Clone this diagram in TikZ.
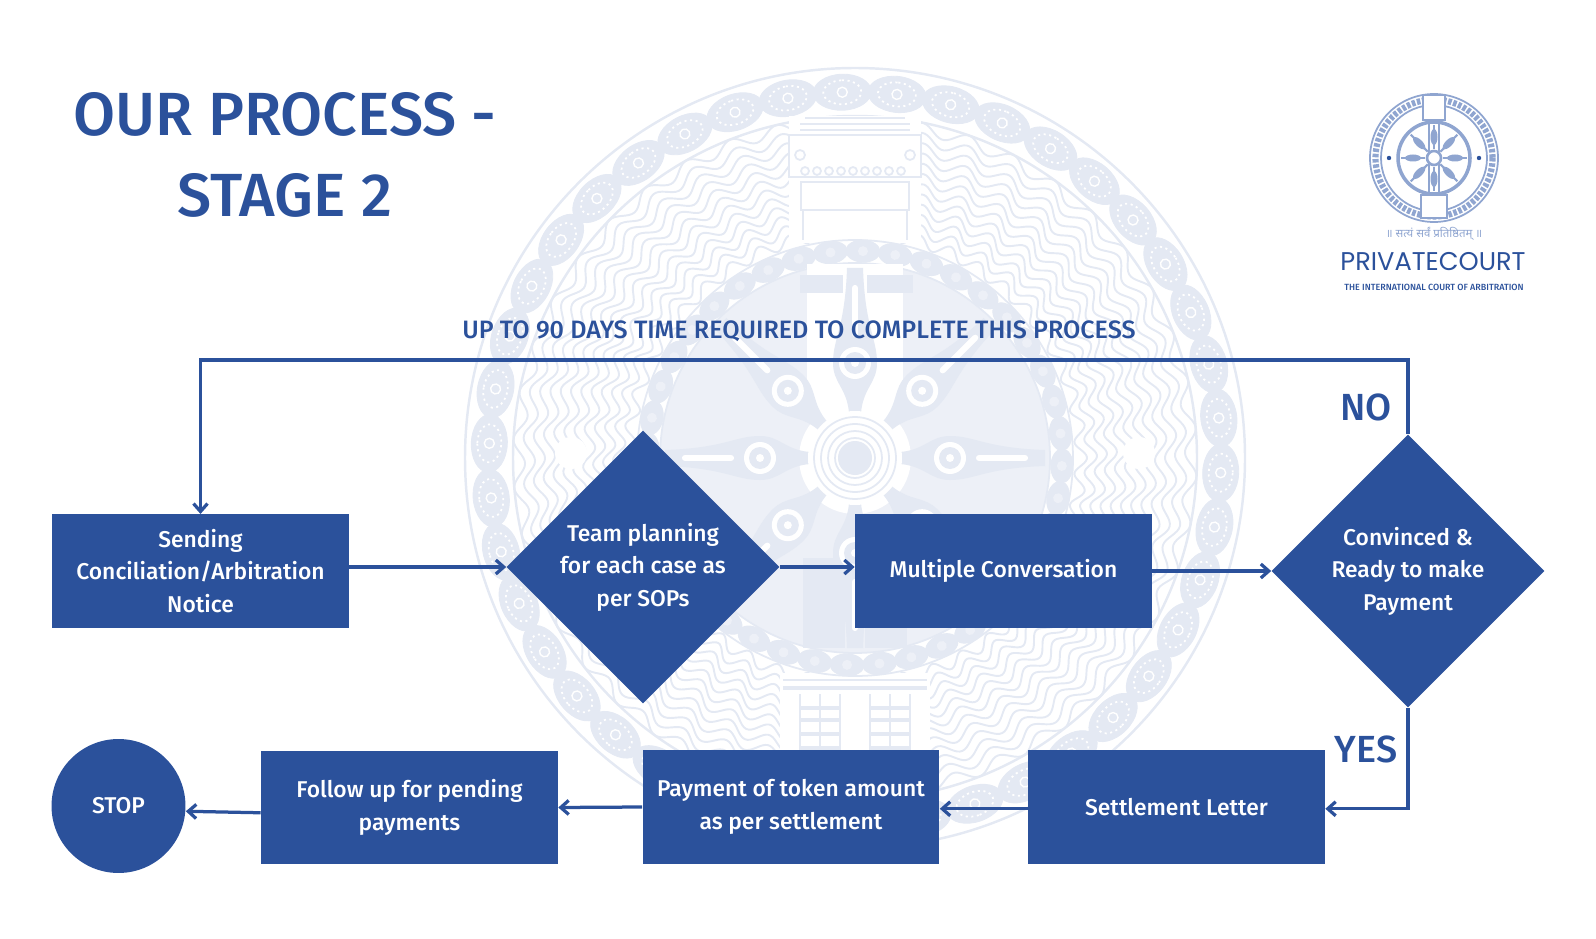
\documentclass[tikz,border=0pt]{standalone}
\usepackage{fontspec}
\setmainfont{Fira Sans}[BoldFont={Fira Sans Medium}]
\newfontfamily\devfont[Script=Devanagari]{Noto Sans}
\newfontfamily\logofont{Poppins}
\usetikzlibrary{arrows.meta,            % arrow tips
                shapes.geometric}       % diamonds
\definecolor{courtblue}{HTML}{2B519B}
\definecolor{wmline}{HTML}{E4E9F3}
\definecolor{wmfill}{HTML}{EDF0F7}
\definecolor{logoline}{HTML}{8FA5D0}
\tikzset{
  stepbox/.style={fill=courtblue, text=white, minimum width=5.94cm, minimum height=2.27cm,
                  align=center, font=\fontsize{13}{18.5}\selectfont\bfseries},
  decision/.style={diamond, aspect=1, fill=courtblue, text=white, inner sep=0pt, minimum size=5.46cm,
                  align=center, font=\fontsize{13}{18.5}\selectfont\bfseries},
  flow/.style={courtblue, line width=1.85pt, -{Straight Barb[length=4.5pt,width=8pt]}},
  tag/.style={courtblue, font=\fontsize{21.5}{25}\selectfont\bfseries},
  wm/.style={wmline, line width=1pt},
  bead/.style={wmline, fill=wmline, line width=0.5pt}
}

\begin{document}
\begin{tikzpicture}[x=0.02cm, y=-0.02cm]
    \useasboundingbox (0,0) rectangle (1596,939);

    % watermark
    \begin{scope}[shift={(855,458)}]
        \draw[wm, line width=1.4pt] (0,0) circle (390);
        \draw[wm, line width=1.4pt] (0,0) circle (342);
        \foreach \r in {226,236,...,336}
        {
            \draw[wmline, line width=1.1pt] plot[domain=-180:180, samples=720]
                ({(\r+6*sin(44*\x+\r*2))*cos(\x)}, {(\r+6*sin(44*\x+\r*2))*sin(\x)});
        }
        \foreach \i in {0,...,41}
        {
            \draw[bead, rotate=6.28+\i*8.571] (366,0) ellipse (18 and 29);
            \draw[white, line width=1pt, dash pattern=on 1.2pt off 2pt, rotate=6.28+\i*8.571] (366,0) ellipse (12 and 19);
            \draw[white, line width=0.8pt, rotate=6.28+\i*8.571] (366,0) circle (5);
        }
        % upper pillar
        \fill[white] (-66,-342) rectangle (66,-215);
        \draw[wm] (-50,-340) -- (50,-340);
        \draw[wm] (-55,-334) -- (55,-334);
        \draw[wm] (-55,-328) -- (55,-328);
        \draw[wm] (-66,-323) rectangle (66,-281);
        \foreach \x in {-50,-38,...,50}
        {
            \draw[wm] (\x,-287) circle (4);
        }
        \draw[wm] (-55,-303) circle (5);
        \draw[wm] (55,-303) circle (5);
        \draw[wm] (-54,-276) rectangle (54,-248);
        \draw[wm] (-52,-248) -- (-52,-218);
        \draw[wm] (52,-248) -- (52,-218);
        % lower pillar
        \fill[white] (-75,215) rectangle (75,330);
        \draw[wm] (-72,222) -- (72,222);
        \draw[wm, line width=2pt] (-72,230) -- (72,230);
        \foreach \x in {-55,-35,15,35}
        {
            \draw[wm] (\x,236) -- (\x,330);
            \draw[wm] (\x+20,236) -- (\x+20,330);
            \foreach \y in {250,262,276,290}
            {
                \draw[wm, line width=2pt] (\x,\y) -- (\x+20,\y);
            }
        }
        % wheel
        \fill[white] (0,0) circle (218);
        \draw[wm] (0,0) circle (218);
        \fill[wmfill] (0,0) circle (195);
        \draw[wm] (0,0) circle (195);
        \foreach \i in {0,...,39}
        {
            \draw[bead, rotate=6.8+\i*9] (207,0) ellipse (11 and 17);
            \fill[wmfill, rotate=6.8+\i*9] (207,0) circle (5);
        }
        \fill[white] (-48,-194) rectangle (48,-45);
        \fill[wmline] (-55,-183) rectangle (-12,-165);
        \fill[wmline] (12,-183) rectangle (58,-165);
        \fill[wmline] (-52,100) rectangle (-10,190);
        \fill[wmline] (10,100) rectangle (52,190);
        \fill[white] (0,0) circle (56);
        \foreach \a in {0,45,...,315}
        {
            \fill[wmline, rotate=\a] (45,-6) .. controls (70,-8) and (75,-22) .. (95,-22)
                .. controls (120,-22) and (130,-10) .. (190,-8) -- (190,8)
                .. controls (130,10) and (120,22) .. (95,22)
                .. controls (75,22) and (70,8) .. (45,6) -- cycle;
            \fill[white, rotate=\a] (95,0) circle (16);
            \fill[wmline, rotate=\a] (95,0) circle (11);
            \fill[white, rotate=\a] (95,0) circle (4);
            \draw[white, line width=3.5pt, line cap=round, rotate=\a] (124,0) -- (170,0);
        }
        \fill[white] (0,0) circle (47);
        \foreach \r in {20,27,...,45}
        {
            \draw[wm] (0,0) circle (\r);
        }
        \fill[wmline] (0,0) circle (17);
        \fill[white] (-284,-5) circle (16);
        \fill[white] (284,-5) circle (16);
    \end{scope}

    % logo
    \begin{scope}[shift={(1434,158)}]
        \draw[logoline, line width=1pt] (0,0) circle (64);
        \draw[logoline, line width=1pt] (0,0) circle (53);
        \draw[logoline, line width=3.5pt, dash pattern=on 2pt off 1pt] (0,0) circle (58.5);
        \draw[logoline, line width=1pt, fill=white] (-11,-63) rectangle (11,-38);
        \draw[logoline, line width=1pt, fill=white] (-13,37) rectangle (13,60);
        \draw[logoline, line width=1pt] (-5,-38) -- (-5,37);
        \draw[logoline, line width=1pt] (5,-38) -- (5,37);
        \draw[logoline, line width=2pt] (0,0) circle (36);
        \foreach \a in {0,45,...,315}
        {
            \draw[logoline, line width=1.2pt, rotate=\a] (9,0) -- (33,0);
            \fill[logoline, rotate=\a] (21,0) ellipse (8 and 3.5);
        }
        \fill[white] (0,0) circle (8);
        \draw[logoline, line width=1.5pt] (0,0) circle (7);
        \fill[courtblue] (-45,0) circle (2.2);
        \fill[courtblue] (45,0) circle (2.2);
    \end{scope}
    \node[text=logoline, font=\devfont\fontsize{6.5}{8}\selectfont] (motto) at (1434,234) {॥ सत्यं सर्वं प्रतिष्ठितम् ॥};
    \node[text=courtblue, font=\logofont\fontsize{14.6}{17}\selectfont] (brand) at (1433,262) {PRIVATECOURT};
    \node[text=courtblue, font=\fontsize{5.1}{6}\selectfont\bfseries] (brandsub) at (1434,287) {THE INTERNATIONAL COURT OF ARBITRATION};

    % title
    \node[text=courtblue, align=center, font=\fontsize{34.7}{46}\selectfont\bfseries] (title) at (285,155) {OUR PROCESS -\\STAGE 2};
    \node[text=courtblue, font=\fontsize{14.3}{16}\selectfont\bfseries] (limit) at (799,331) {UP TO 90 DAYS TIME REQUIRED TO COMPLETE THIS PROCESS};

    % steps
    \node[stepbox] (sending) at (200.5,571) {Sending\\Conciliation/Arbitration\\Notice};
    \node[decision] (teamplan) at (643,567) {Team planning\\for each case as\\per SOPs};
    \node[stepbox] (multi) at (1003.5,571) {Multiple Conversation};
    \node[decision] (convinced) at (1408,571) {Convinced \&\\Ready to make\\Payment};
    \node[stepbox] (settlement) at (1176.5,807) {Settlement Letter};
    \node[stepbox] (token) at (791,807) {Payment of token amount\\as per settlement};
    \node[stepbox] (followup) at (409.5,807.5) {Follow up for pending\\payments};
    \node[circle, fill=courtblue, text=white, inner sep=0pt, minimum size=2.68cm, font=\fontsize{13}{18.5}\selectfont\bfseries] (stop) at (118.5,806) {STOP};

    \node[tag] (no) at (1366,407) {NO};
    \node[tag] (yes) at (1366,749) {YES};

    % connectors
    \coordinate (topline) at (800,360);
    \draw[flow] (convinced.north) |- (topline) -| (sending.north);
    \draw[flow] (sending.east |- teamplan.west) -- (teamplan.west);
    \draw[flow] (teamplan.east) -- (multi.west |- teamplan.east);
    \draw[flow] (multi.east) -- (convinced.west);
    \draw[flow] (convinced.south) |- ([yshift=-1pt]settlement.east);
    \draw[flow] ([yshift=-1pt]settlement.west) -- ([yshift=-1pt]token.east);
    \draw[flow] (token.west) -- (followup.east);
    \draw[flow] ([yshift=-3pt]followup.west) -- ([yshift=-3pt]stop.east);
\end{tikzpicture}
\end{document}
